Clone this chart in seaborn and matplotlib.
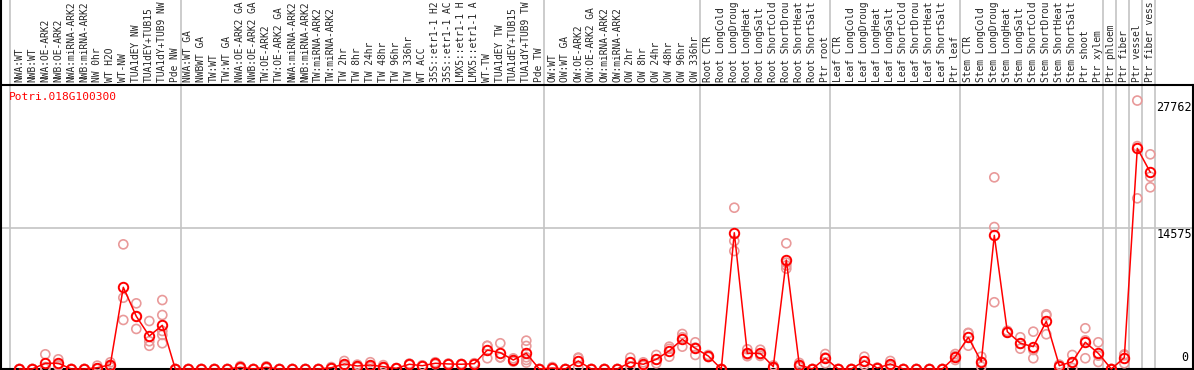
import pandas as pd
import matplotlib.pyplot as plt
import seaborn as sns
from matplotlib.lines import Line2D

# Sample names (in plot order)
samples = [
    'NWA:WT', 'NWB:WT', 'NWA:OE-ARK2', 'NWB:OE-ARK2', 'NWA:miRNA-ARK2', 'NWB:miRNA-ARK2',
    'NW 0hr', 'WT H2O', 'WT-NW', 'TUA1dEY NW', 'TUA1dEY+TUB15', 'TUA1dY+TUB9 NW', 'Pde NW',
    'NWA:WT GA', 'NWBWT GA', 'TW:WT', 'TW:WT GA', 'NWA:OE-ARK2 GA', 'NWB:OE-ARK2 GA',
    'TW:OE-ARK2', 'TW:OE-ARK2 GA', 'NWA:miRNA-ARK2', 'NWB:miRNA-ARK2', 'TW:miRNA-ARK2',
    'TW:miRNA-ARK2', 'TW 2hr', 'TW 8hr', 'TW 24hr', 'TW 48hr', 'TW 96hr', 'TW 336hr',
    'WT ACC', '35S::etr1-1 H2', '35S::etr1-1 AC', 'LMX5::etr1-1 H', 'LMX5::etr1-1 A',
    'WT-TW', 'TUA1dEY TW', 'TUA1dEY+TUB15', 'TUA1dY+TUB9 TW', 'Pde TW',
    'OW:WT', 'OW:WT GA', 'OW:OE-ARK2', 'OW:OE-ARK2 GA', 'OW:miRNA-ARK2', 'OW:miRNA-ARK2',
    'OW 2hr', 'OW 8hr', 'OW 24hr', 'OW 48hr', 'OW 96hr', 'OW 336hr',
    'Root CTR', 'Root LongCold', 'Root LongDroug', 'Root LongHeat', 'Root LongSalt',
    'Root ShortCold', 'Root ShortDrou', 'Root ShortHeat', 'Root ShortSalt', 'Ptr root',
    'Leaf CTR', 'Leaf LongCold', 'Leaf LongDroug', 'Leaf LongHeat', 'Leaf LongSalt',
    'Leaf ShortCold', 'Leaf ShortDrou', 'Leaf ShortHeat', 'Leaf ShortSalt', 'Ptr leaf',
    'Stem CTR', 'Stem LongCold', 'Stem LongDroug', 'Stem LongHeat', 'Stem LongSalt',
    'Stem ShortCold', 'Stem ShortDrou', 'Stem ShortHeat', 'Stem ShortSalt', 'Ptr shoot',
    'Ptr xylem', 'Ptr phloem', 'Ptr fiber', 'Ptr vessel', 'Ptr fiber vess',
]

# number of samples in each experiment block (separated by grey lines)
group_sizes = [13, 28, 12, 10, 10, 11, 1, 1, 1, 1]

# mean expression per sample
means = [
    0, 0, 590, 590, 0, 0, 130, 440, 8450, 5450, 3410, 4520, 0,
    0, 0, 0, 0, 175, 0, 175, 0, 0, 0, 0, 130, 520, 310, 410, 240, 70, 490,
    340, 590, 520, 490, 550, 1960, 1690, 930, 1620, 0,
    100, 0, 830, 0, 0, 0, 690, 490, 1000, 1890, 3070, 2140,
    1340, 0, 14090, 1620, 1620, 240, 11270, 410, 0, 1110,
    0, 0, 830, 100, 520, 0, 0, 0, 0, 1270,
    3280, 750, 13820, 3860, 2660, 2310, 4930, 340, 750, 2760,
    1620, 0, 1170, 22820, 20340,
]

# individual replicate values per sample
replicates = [
    [0, 0, 0], [0, 0, 0], [1520, 200, 50], [1000, 450, 320], [0, 0, 0], [0, 0, 0],
    [350, 30, 10], [690, 420, 200], [12890, 7370, 5070], [6790, 5430, 4140],
    [4960, 2870, 2400], [7130, 5580, 3930, 3520, 2660], [0, 0, 0],
    [0, 0, 0], [0, 0, 0], [0, 0, 0], [0, 0, 0], [300, 150, 80], [0, 0, 0],
    [280, 160, 90], [0, 0, 0], [0, 0, 0], [0, 0, 0], [0, 0, 0], [200, 120, 60],
    [830, 420, 300], [450, 300, 180], [700, 330, 200], [400, 200, 120], [100, 60, 50],
    [560, 480, 430], [380, 340, 300], [700, 580, 490], [560, 520, 480],
    [530, 490, 450], [600, 550, 500], [2400, 2380, 1110], [2660, 1210, 1200],
    [1100, 930, 760], [2930, 2380, 1210, 930, 660], [0, 0, 0],
    [200, 60, 40], [0, 0, 0], [1180, 1110, 200], [0, 0, 0], [0, 0, 0], [0, 0, 0],
    [1170, 660, 240], [690, 450, 330], [1450, 960, 590], [2310, 2090, 1270],
    [3620, 3280, 2310], [2760, 2210, 1450],
    [1450, 1340, 1230], [0, 0, 0], [16680, 13240, 12200], [2040, 1500, 1320],
    [1990, 1520, 1350], [370, 240, 110], [13000, 11000, 10700, 10380],
    [630, 410, 200], [0, 0, 0], [1550, 1190, 590],
    [0, 0, 0], [0, 0, 0], [1270, 810, 410], [150, 100, 50], [830, 430, 300],
    [0, 0, 0], [0, 0, 0], [0, 0, 0], [0, 0, 0], [1550, 1330, 930],
    [3740, 3690, 2410], [1270, 740, 240], [19820, 14680, 6900], [3950, 3860, 3770],
    [3280, 2600, 2100], [3860, 1960, 1110], [5660, 5540, 3590], [450, 340, 230],
    [1450, 700, 100], [4210, 2960, 1110],
    [2760, 1380, 720], [0, 0, 0], [1510, 1410, 590], [27762, 23050, 17650],
    [22200, 19880, 18790],
]

gene = 'Potri.018G100300'
ytick_vals = [0, 14575, 27762]

# build data frames
mean_df = pd.DataFrame({'pos': range(len(samples)), 'value': means})
rep_rows = []
for i, reps in enumerate(replicates):
    for v in reps:
        rep_rows.append({'pos': i, 'value': v})
rep_df = pd.DataFrame(rep_rows)

sns.set_style('white')
plt.rcParams['font.family'] = ['DejaVu Sans Mono', 'DejaVu Sans']

W, H = 1194, 370
fig = plt.figure(figsize=(W / 100, H / 100), dpi=100)
ax_top_px = 85
ax = fig.add_axes([0, 0, 1193 / W, (H - ax_top_px) / H])

sns.scatterplot(data=rep_df, x='pos', y='value', ax=ax, marker='o', s=42,
                facecolor='none', edgecolor='#e99a9a', linewidth=1.2, zorder=3)
sns.lineplot(data=mean_df, x='pos', y='value', ax=ax, color='red', linewidth=1.1,
             marker='o', markersize=6.8, markerfacecolor='none',
             markeredgecolor='red', markeredgewidth=1.4, zorder=4)

px = 13.0
ax.set_xlim(-19.3 / px, (1193 - 19.3) / px)
ax.set_ylim(-105, 29370)

# grey separators between experiment blocks, running through the label area
ext = H / (H - ax_top_px)
bounds = [-0.7]
n = 0
for g in group_sizes:
    n += g
    bounds.append(n - 0.6)
for b in bounds:
    ax.axvline(b, ymin=0, ymax=ext, color='#c4c4c4', linewidth=1.2, clip_on=False, zorder=1)

ax.axhline(14575, color='#c4c4c4', linewidth=1.2, zorder=1)
ax.axhline(0, color='black', linewidth=1.5, zorder=2)

# value labels on the right
for v in ytick_vals:
    if v == 0:
        ax.text(0.996, v + 550, str(v), transform=ax.get_yaxis_transform(),
                ha='right', va='bottom', fontsize=8.5, color='black')
    else:
        ax.text(0.999, v, str(v), transform=ax.get_yaxis_transform(),
                ha='right', va='top', fontsize=8.5, color='black')

ax.text(9 / 1193, 1 - 12 / (H - ax_top_px), gene, transform=ax.transAxes,
        ha='left', va='center', fontsize=8, color='red')

# sample names on top
ax.xaxis.tick_top()
ax.set_xticks(range(len(samples)))
ax.set_xticklabels(samples, rotation=90, fontsize=6.9, va='bottom', ha='center')
ax.tick_params(axis='x', length=0, pad=2)
ax.set_yticks([])
ax.set_xlabel('')
ax.set_ylabel('')

for s in ['top', 'left', 'right']:
    ax.spines[s].set_color('black')
    ax.spines[s].set_linewidth(1.5)
ax.spines['bottom'].set_visible(False)

fig.add_artist(Line2D([0.5 / W, 0.5 / W], [0, 1], color='black', linewidth=1.5))

fig.savefig('out.png', dpi=100, facecolor='white')
